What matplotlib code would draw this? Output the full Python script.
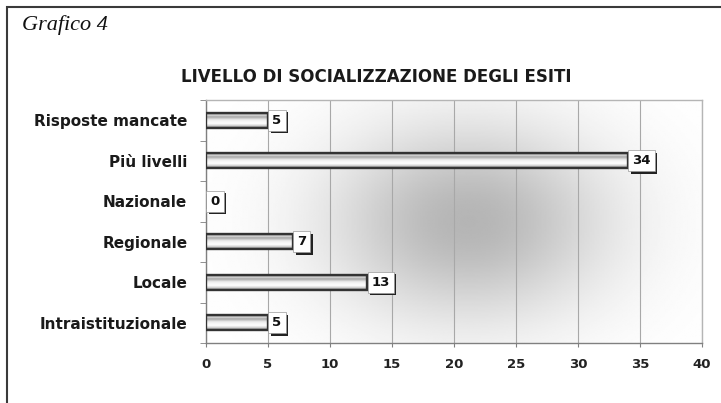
import numpy as np
import matplotlib
matplotlib.use('Agg')
import matplotlib.pyplot as plt
import matplotlib.patheffects as pe
from matplotlib.patches import Rectangle

# data (bottom to top)
categories = ['Intraistituzionale', 'Locale', 'Regionale', 'Nazionale', 'Più livelli', 'Risposte mancate']
values = [5, 13, 7, 0, 34, 5]
xticks = [0, 5, 10, 15, 20, 25, 30, 35, 40]

title = 'LIVELLO DI SOCIALIZZAZIONE DEGLI ESITI'
header = 'Grafico 4'

W, H = 721, 403
fig = plt.figure(figsize=(W / 100, H / 100), dpi=100)
fig.patch.set_facecolor('white')

# axes placed by pixel coordinates of the reference
ax = fig.add_axes([206 / W, 1 - 343 / H, 496 / W, 243 / H])

# soft gray spot in the plot background
gx, gy = np.meshgrid(np.linspace(0, 1, 300), np.linspace(0, 1, 200))
r2 = ((gx - 0.53) / 0.28) ** 2 + ((gy - 0.50) / 0.40) ** 2
shade = 1 - 0.29 * np.exp(-r2)
ax.imshow(shade, extent=(0, 1, 0, 1), transform=ax.transAxes, cmap='gray',
          vmin=0, vmax=1, aspect='auto', zorder=0, interpolation='bilinear')

ypos = np.arange(len(categories))
bar_h = 0.37

# cylinder-like shading for the bars (top -> bottom)
prof_pts = [0.0, 0.12, 0.3, 0.55, 0.75, 0.88, 1.0]
prof_val = [0.35, 0.78, 1.0, 0.93, 0.65, 0.87, 0.30]
prof = np.interp(np.linspace(0, 1, 40), prof_pts, prof_val).reshape(-1, 1)

bars = ax.barh(ypos, values, height=bar_h, facecolor='none',
               edgecolor='#333333', linewidth=1.7, zorder=4)
for b, v, y in zip(bars, values, ypos):
    if v <= 0:
        continue
    im = ax.imshow(prof, extent=(0, v, y + bar_h / 2, y - bar_h / 2),
                   cmap='gray', vmin=0, vmax=1, aspect='auto', zorder=3,
                   interpolation='bilinear')
    im.set_clip_path(b)

# value labels in boxes with a dark shadow
for v, y in zip(values, ypos):
    t = ax.annotate(str(v), xy=(v, y), xytext=(3.2, 0), textcoords='offset points',
                    ha='left', va='center', fontsize=9.5, fontweight='bold', color='#111111',
                    bbox=dict(boxstyle='square,pad=0.3', fc='white', ec='#999999', lw=0.5),
                    zorder=6, annotation_clip=False)
    t.get_bbox_patch().set_path_effects([
        pe.SimplePatchShadow(offset=(1.8, -1.8), shadow_rgbFace='#222222', alpha=1.0),
        pe.Normal()])

ax.set_xlim(0, 40)
ax.set_ylim(-0.5, len(categories) - 0.5)
ax.set_xticks(xticks)
ax.set_xticklabels([str(t) for t in xticks], fontsize=9.5, fontweight='bold', color='#222222')
ax.set_yticks(ypos)
ax.set_yticklabels(categories, fontsize=11, fontweight='bold', color='#1a1a1a')
ax.set_yticks(np.arange(-0.5, len(categories), 1), minor=True)
ax.tick_params(axis='y', which='major', length=0, pad=13.5)
ax.tick_params(axis='y', which='minor', length=4, color='#808080', direction='out')
ax.tick_params(axis='x', length=3, color='#808080', direction='out', pad=8)

ax.grid(axis='x', color='#a8a8a8', linewidth=0.8, zorder=1)
ax.set_axisbelow(True)
for s in ['left', 'bottom']:
    ax.spines[s].set_color('#808080')
    ax.spines[s].set_linewidth(1.0)
for s in ['top', 'right']:
    ax.spines[s].set_color('#b5b5b5')
    ax.spines[s].set_linewidth(1.0)

fig.text(376 / W, 1 - 77 / H, title, ha='center', va='center',
         fontsize=12, fontweight='bold', color='#1a1a1a')
fig.text(22 / W, 1 - 30 / H, header, ha='left', va='baseline',
         fontsize=16, fontstyle='italic', family='Liberation Serif', color='#111111')

# outer frame, open to the right and bottom like the reference crop
fig.add_artist(Rectangle((7 / W, -0.1), 1.2, 1 - 7 / H + 0.1, transform=fig.transFigure,
                         fill=False, edgecolor='#3a3a3a', linewidth=1.5))

fig.savefig('out.png', dpi=100)
